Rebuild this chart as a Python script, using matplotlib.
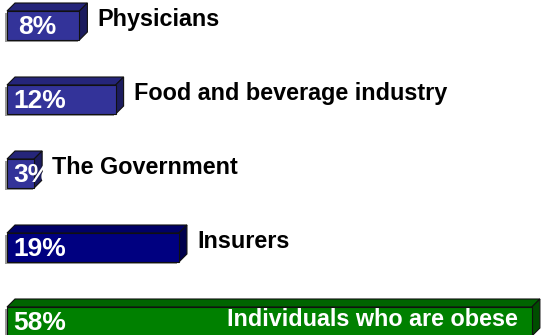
import matplotlib
matplotlib.use("Agg")
import matplotlib.pyplot as plt
from matplotlib.patches import Polygon, Rectangle

# Survey: who is responsible for obesity
categories = ["Physicians", "Food and beverage industry", "The Government",
              "Insurers", "Individuals who are obese"]
values = [8, 12, 3, 19, 58]
value_labels = ["8%", "12%", "3%", "19%", "58%"]

# Face colours per bar: front, top, side
front_colors = ["#333399", "#333399", "#333399", "#000080", "#008000"]
top_colors = ["#25257a", "#25257a", "#25257a", "#000066", "#006400"]
side_colors = ["#1c1c5e", "#1c1c5e", "#1c1c5e", "#00004d", "#004d00"]

W, H = 542, 335
PX_PER_UNIT = 9.05      # pixels per percentage point
X0 = 7                  # pixel where 0% sits
ROW = 74                # pixel spacing between rows
Y0 = 25.5               # pixel centre of first row

fig = plt.figure(figsize=(W / 100, H / 100), dpi=100)
ax = fig.add_axes([0, 0, 1, 1])
ax.set_xlim(-X0 / PX_PER_UNIT, (W - X0) / PX_PER_UNIT)
ax.set_ylim((H - Y0) / ROW, -Y0 / ROW)
ax.axis("off")

px_x = 1 / PX_PER_UNIT
px_y = 1 / ROW
bar_h = 29 * px_y
dx = 8 * px_x
dy = 8 * px_y

cat_font = dict(family=["Liberation Sans", "DejaVu Sans"], fontweight="bold", fontsize=16.8)
val_font = dict(family=["Liberation Sans", "DejaVu Sans"], fontweight="bold", fontsize=19)

for i, (cat, v, lab) in enumerate(zip(categories, values, value_labels)):
    top = i - bar_h / 2
    bot = i + bar_h / 2
    # soft shadow under the front face
    ax.add_patch(Rectangle((-1.5 * px_x, top + 2 * px_y), v, bar_h,
                           facecolor="#9a9a9a", edgecolor="none", zorder=1))
    ax.barh(i, v, height=bar_h, left=0, color=front_colors[i],
            edgecolor="#111111", linewidth=0.8, zorder=3)
    ax.add_patch(Polygon([(0, top), (v, top), (v + dx, top - dy), (dx, top - dy)],
                         closed=True, facecolor=top_colors[i],
                         edgecolor="#111111", linewidth=0.8, zorder=2))
    ax.add_patch(Polygon([(v, top), (v + dx, top - dy), (v + dx, bot - dy), (v, bot)],
                         closed=True, facecolor=side_colors[i],
                         edgecolor="#111111", linewidth=0.8, zorder=2))
    lab_x = 11 if i == 0 else 6
    ax.text(lab_x * px_x, i + 1 * px_y, lab, color="white", ha="left", va="center",
            zorder=4, **val_font)
    if i == len(categories) - 1:
        ax.text((518 - X0) * px_x, i - 2 * px_y, cat, color="white", ha="right",
                va="center", zorder=4, **cat_font)
    else:
        ax.text(v + dx + 10 * px_x, i - 6 * px_y, cat, color="black", ha="left",
                va="center", zorder=4, **cat_font)

fig.savefig("out.png", dpi=100)
